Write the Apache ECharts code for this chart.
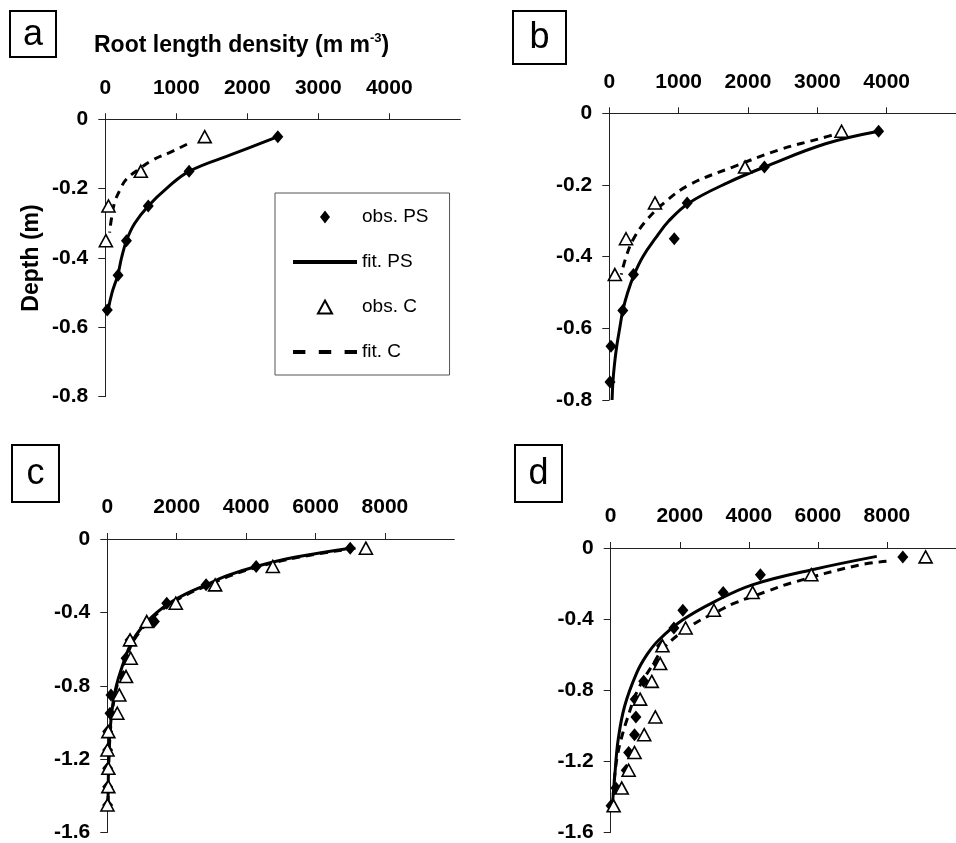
<!DOCTYPE html>
<html lang="en">
<head>
<meta charset="UTF-8">
<title>Root length density profiles</title>
<script src="https://cdn.jsdelivr.net/npm/echarts@6/dist/echarts.min.js"></script>
<style>
    body { margin: 0; background: #fff; }
    #chart { width: 956px; height: 843px; }
</style>
</head>
<body>
<div id="chart"></div>
<script>
    // ---- panel a ----
    var aObsDepth = [-0.05, -0.15, -0.25, -0.35, -0.45, -0.55];
    var aObsPS = [2430, 1180, 605, 298, 180, 28];
    var aObsCDepth = [-0.05, -0.15, -0.25, -0.35];
    var aObsC = [1400, 500, 45, 8];
    var aFitPSDepth = [-0.05, -0.1, -0.15, -0.2, -0.25, -0.3, -0.35, -0.4, -0.45, -0.5, -0.55];
    var aFitPS = [2430, 1800, 1180, 860, 605, 415, 298, 228, 175, 95, 40];
    var aFitCDepth = [-0.072, -0.096, -0.117, -0.14, -0.173, -0.202, -0.24, -0.288, -0.327];
    var aFitC = [1150, 906, 671, 500, 296, 211, 131, 85, 61];

    // ---- panel b ----
    var bObsPSDepth = [-0.05, -0.15, -0.25, -0.35, -0.45, -0.55, -0.65, -0.75];
    var bObsPS = [3884, 2237, 1123, 937, 349, 195, 24, 10];
    var bObsCDepth = [-0.05, -0.15, -0.25, -0.35, -0.45];
    var bObsC = [3350, 1958, 659, 241, 80];
    var bFitPSDepth = [-0.05, -0.085, -0.15, -0.192, -0.25, -0.3, -0.35, -0.4, -0.45, -0.5, -0.55, -0.6, -0.65, -0.7, -0.75, -0.8];
    var bFitPS = [3884, 3118, 2237, 1726, 1150, 860, 661, 484, 358, 265, 195, 150, 107, 75, 52, 40];
    var bFitCDepth = [-0.05, -0.07, -0.1, -0.15, -0.2, -0.25, -0.3, -0.35, -0.4, -0.45];
    var bFitC = [3400, 3050, 2480, 1780, 1150, 790, 530, 350, 243, 173];

    // ---- panel c ----
    var cObsDepth = [-0.05, -0.15, -0.25, -0.35, -0.45, -0.55, -0.65, -0.75, -0.85, -0.95, -1.05, -1.15, -1.25, -1.35, -1.45];
    var cObsPS = [7000, 4290, 2847, 1713, 1356, 655, 540, 460, 107, 78, 10, 10, 10, 10, 10];
    var cObsC = [7452, 4770, 3107, 1973, 1136, 655, 675, 540, 346, 288, 30, 5, 30, 30, 5];
    var cFitDepth = [-0.05, -0.1, -0.15, -0.2, -0.25, -0.3, -0.35, -0.4, -0.45, -0.5, -0.55, -0.6, -0.7, -0.8, -0.9, -1.0, -1.1, -1.2, -1.3, -1.45];
    var cFitPS = [7000, 5400, 4290, 3450, 2850, 2250, 1780, 1430, 1150, 920, 740, 610, 420, 260, 160, 100, 60, 40, 30, 20];
    var cFitC = [7150, 5500, 4380, 3550, 2920, 2320, 1850, 1480, 1190, 960, 770, 640, 440, 280, 175, 110, 70, 45, 32, 20];

    // ---- panel d ----
    var dObsDepth = [-0.05, -0.15, -0.25, -0.35, -0.45, -0.55, -0.65, -0.75, -0.85, -0.95, -1.05, -1.15, -1.25, -1.35, -1.45];
    var dObsPS = [8460, 4335, 3258, 2090, 1830, 1470, 1350, 955, 710, 730, 690, 520, 450, 150, 10];
    var dObsC = [9120, 5810, 4110, 2990, 2170, 1500, 1433, 1190, 852, 1292, 970, 690, 520, 320, 85];
    var dFitPSDepth = [-0.047, -0.122, -0.207, -0.3, -0.404, -0.52, -0.6, -0.7, -0.89, -1.08, -1.27, -1.45];
    var dFitPS = [7706, 5833, 4101, 3024, 2088, 1380, 1050, 760, 403, 215, 122, 47];
    var dFitCDepth = [-0.075, -0.098, -0.197, -0.244, -0.31, -0.357, -0.432, -0.554, -0.648, -0.8, -0.967, -1.07, -1.164, -1.268, -1.4];
    var dFitC = [7987, 7144, 5225, 4522, 3586, 3100, 2369, 1573, 1245, 780, 468, 309, 197, 122, 70];

    var xTicks4000 = [0, 1000, 2000, 3000, 4000];
    var xTicks8000 = [0, 2000, 4000, 6000, 8000];

    var FONT = 'Liberation Sans, Arial, sans-serif';

    // legend icons (kept to shape by symbolKeepAspect)
    var ICON_DIAMOND = 'path://M5,0 L10,6.5 L5,13 L0,6.5 Z';
    var ICON_TRIANGLE = 'path://M6.5,0 L13,12 L0,12 Z';
    var ICON_SOLID = 'path://M0,0 H64 V4 H0 Z';
    var ICON_DASH = 'path://M0,0 H12 V4 H0 Z M25,0 H37 V4 H25 Z M50,0 H62 V4 H50 Z';

    function pairs(xs, ds) {
        return xs.map(function (v, i) { return [v, ds[i]]; });
    }

    function xAxisOf(grid, max, step, ticks) {
        return {
            type: 'value', gridIndex: grid, position: 'top',
            min: 0, max: max, interval: step,
            axisLine: { show: true, onZero: false, lineStyle: { color: '#222', width: 1 } },
            axisTick: { show: true, length: 6, lineStyle: { color: '#222' }, customValues: ticks },
            axisLabel: {
                customValues: ticks, margin: 21, fontSize: 21, fontWeight: 'bold', color: '#000', fontFamily: FONT,
                formatter: function (v) { return String(v); }
            },
            splitLine: { show: false }
        };
    }

    function yAxisOf(grid, min, step, name) {
        return {
            type: 'value', gridIndex: grid,
            min: min, max: 0, interval: step,
            name: name || '',
            nameLocation: 'middle', nameRotate: 90, nameGap: 62,
            nameTextStyle: { fontSize: 23, fontWeight: 'bold', color: '#000', fontFamily: FONT },
            axisLine: { show: true, onZero: false, lineStyle: { color: '#222', width: 1 } },
            axisTick: { show: true, length: 7, lineStyle: { color: '#222' } },
            axisLabel: { margin: 17, fontSize: 21, fontWeight: 'bold', color: '#000', fontFamily: FONT },
            splitLine: { show: false }
        };
    }

    function obsSeries(name, idx, data) {
        var tri = name === 'obs. C';
        return {
            name: name, type: 'scatter', xAxisIndex: idx, yAxisIndex: idx, z: 4,
            symbol: tri ? 'triangle' : 'diamond',
            symbolSize: tri ? [13, 12] : [11, 13],
            itemStyle: tri ? { color: '#fff', borderColor: '#000', borderWidth: 1.6, opacity: 1 }
                           : { color: '#000', opacity: 1 },
            data: data
        };
    }

    function fitSeries(name, idx, data) {
        var dashed = name === 'fit. C';
        return {
            name: name, type: 'line', xAxisIndex: idx, yAxisIndex: idx, z: 3,
            symbol: 'none', smooth: 0.4,
            lineStyle: { color: '#000', width: 3, type: dashed ? [8, 6] : 'solid' },
            itemStyle: { color: '#000' },
            data: data
        };
    }

    var series = [
        fitSeries('fit. PS', 0, pairs(aFitPS, aFitPSDepth)),
        fitSeries('fit. C', 0, pairs(aFitC, aFitCDepth)),
        obsSeries('obs. PS', 0, pairs(aObsPS, aObsDepth)),
        obsSeries('obs. C', 0, pairs(aObsC, aObsCDepth)),

        fitSeries('fit. PS', 1, pairs(bFitPS, bFitPSDepth)),
        fitSeries('fit. C', 1, pairs(bFitC, bFitCDepth)),
        obsSeries('obs. PS', 1, pairs(bObsPS, bObsPSDepth)),
        obsSeries('obs. C', 1, pairs(bObsC, bObsCDepth)),

        fitSeries('fit. PS', 2, pairs(cFitPS, cFitDepth)),
        fitSeries('fit. C', 2, pairs(cFitC, cFitDepth)),
        obsSeries('obs. PS', 2, pairs(cObsPS, cObsDepth)),
        obsSeries('obs. C', 2, pairs(cObsC, cObsDepth)),

        fitSeries('fit. PS', 3, pairs(dFitPS, dFitPSDepth)),
        fitSeries('fit. C', 3, pairs(dFitC, dFitCDepth)),
        obsSeries('obs. PS', 3, pairs(dObsPS, dObsDepth)),
        obsSeries('obs. C', 3, pairs(dObsC, dObsDepth))
    ];

    function panelLabel(letter, x, y, w, h) {
        return [
            { type: 'rect', shape: { x: x, y: y, width: w, height: h },
              style: { fill: '#fff', stroke: '#000', lineWidth: 2 }, z: 10 },
            { type: 'text', x: x + w / 2, y: y + h / 2 + 1, z: 11,
              style: { text: letter, fontSize: 36, fontFamily: FONT, fill: '#000',
                       align: 'center', verticalAlign: 'middle' } }
        ];
    }

    var myChart = echarts.init(document.getElementById('chart'));

    var option = {
        backgroundColor: '#fff',
        animation: false,
        title: {
            text: '{a|Root length density (m m}{s|-3}{a|)}',
            left: 94, top: 32, padding: 0,
            textStyle: {
                rich: {
                    a: { fontSize: 23, fontWeight: 'bold', color: '#000', fontFamily: FONT, lineHeight: 28 },
                    s: { fontSize: 13, fontWeight: 'bold', color: '#000', fontFamily: FONT, lineHeight: 14, verticalAlign: 'top' }
                }
            }
        },
        legend: {
            data: [
                { name: 'obs. PS', icon: ICON_DIAMOND },
                { name: 'fit. PS', icon: ICON_SOLID },
                { name: 'obs. C', icon: ICON_TRIANGLE },
                { name: 'fit. C', icon: ICON_DASH }
            ],
            orient: 'vertical', left: 275, top: 193,
            padding: [14, 21, 13, 18],
            itemWidth: 64, itemHeight: 13, itemGap: 25,
            symbolKeepAspect: true,
            borderColor: '#555', borderWidth: 1,
            selectedMode: false,
            textStyle: { fontSize: 19, color: '#000', fontFamily: FONT, lineHeight: 20 }
        },
        grid: [
            { left: 105.3, top: 119.3, width: 355, height: 277.4 },
            { left: 609.3, top: 113.3, width: 358.5, height: 286.7 },
            { left: 107.3, top: 539, width: 347, height: 295 },
            { left: 610.7, top: 548, width: 356, height: 286 }
        ],
        xAxis: [
            xAxisOf(0, 5000, 1000, xTicks4000),
            xAxisOf(1, 5000, 1000, xTicks4000),
            xAxisOf(2, 10000, 2000, xTicks8000),
            xAxisOf(3, 10000, 2000, xTicks8000)
        ],
        yAxis: [
            yAxisOf(0, -0.8, 0.2, 'Depth (m)'),
            yAxisOf(1, -0.8, 0.2),
            yAxisOf(2, -1.6, 0.4),
            yAxisOf(3, -1.6, 0.4)
        ],
        graphic: [].concat(
            panelLabel('a', 10, 11, 46, 46),
            panelLabel('b', 513, 11, 53, 53),
            panelLabel('c', 12, 445, 47, 57),
            panelLabel('d', 515, 445, 47, 57)
        ),
        series: series
    };

    myChart.setOption(option);
</script>
</body>
</html>
